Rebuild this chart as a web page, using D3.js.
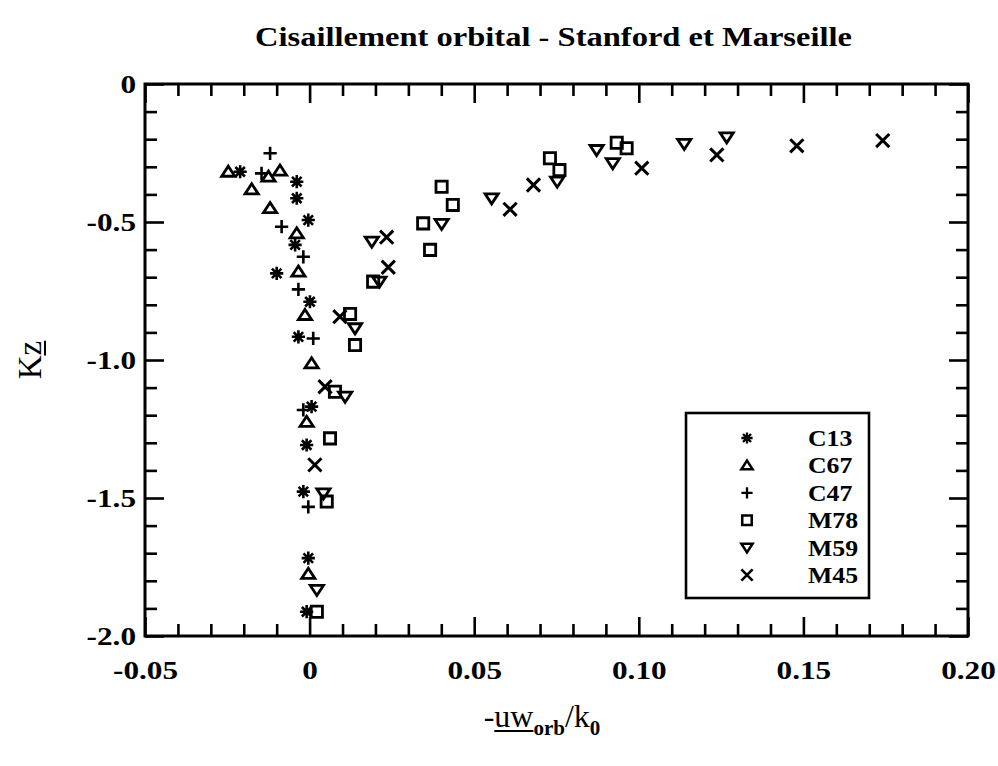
<!DOCTYPE html>
<html><head><meta charset="utf-8">
<script src="https://cdn.jsdelivr.net/npm/d3@7"></script>
<style>body{margin:0;background:#fff}svg{display:block}</style>
</head><body>
<script>
// ---- data ----
const seriesNames = ["C13","C67","C47","M78","M59","M45"];
const seriesSymbols = ["asterisk","triangleUp","plus","square","triangleDown","cross"];
const C13 = [[-0.0211,-0.318],[-0.0039,-0.354],[-0.0039,-0.414],[-0.0004,-0.493],[-0.0044,-0.583],[-0.0100,-0.686],[0.0001,-0.789],[-0.0034,-0.916],[0.0006,-1.169],[-0.0009,-1.308],[-0.0019,-1.477],[-0.0004,-1.718],[-0.0009,-1.912]];
const C67 = [[-0.0247,-0.318],[-0.0125,-0.336],[-0.0090,-0.314],[-0.0176,-0.382],[-0.0120,-0.450],[-0.0039,-0.541],[-0.0034,-0.680],[-0.0014,-0.837],[0.0006,-1.012],[-0.0009,-1.224],[-0.0004,-1.775]];
const C47 = [[-0.0120,-0.251],[-0.0146,-0.324],[-0.0085,-0.517],[-0.0019,-0.626],[-0.0034,-0.744],[0.0011,-0.922],[-0.0019,-1.181],[-0.0004,-1.532]];
const M78 = [[0.0022,-1.912],[0.0052,-1.513],[0.0062,-1.284],[0.0077,-1.115],[0.0138,-0.946],[0.0123,-0.833],[0.0193,-0.716],[0.0366,-0.601],[0.0345,-0.505],[0.0435,-0.438],[0.0401,-0.372],[0.0759,-0.312],[0.0730,-0.269],[0.0933,-0.213],[0.0963,-0.233]];
const M59 = [[0.0022,-1.833],[0.0042,-1.483],[0.0108,-1.133],[0.0138,-0.885],[0.0212,-0.716],[0.0189,-0.571],[0.0401,-0.507],[0.0553,-0.414],[0.0752,-0.354],[0.0872,-0.239],[0.0921,-0.287],[0.1138,-0.217],[0.1267,-0.193]];
const M45 = [[0.0016,-1.380],[0.0047,-1.097],[0.0092,-0.843],[0.0239,-0.664],[0.0234,-0.555],[0.0609,-0.454],[0.0680,-0.366],[0.1009,-0.305],[0.1237,-0.257],[0.1480,-0.224],[0.1741,-0.205]];
const seriesData = [C13,C67,C47,M78,M59,M45];
const xMajorTicks = [-0.05,0,0.05,0.10,0.15,0.20];
const xTickLabels = ["-0.05","0","0.05","0.10","0.15","0.20"];
const yMajorTicks = [0,-0.5,-1.0,-1.5,-2.0];
const yTickLabels = ["0","-0.5","-1.0","-1.5","-2.0"];
const titleText = "Cisaillement orbital - Stanford et Marseille";

// ---- layout ----
const W = 998, H = 766;
const L = 145, R = 968, T = 84, B = 636;
const x = d3.scaleLinear().domain([-0.05,0.20]).range([L,R]);
const y = d3.scaleLinear().domain([-2,0]).range([B,T]);
const xMinor = d3.range(-50,201,10).map(v=>v/1000).filter(v=>!xMajorTicks.some(m=>Math.abs(m-v)<1e-9));
const yMinor = d3.range(0,-21,-1).map(v=>v/10).filter(v=>!yMajorTicks.some(m=>Math.abs(m-v)<1e-9));

const svg = d3.select("body").append("svg").attr("width",W).attr("height",H);
const serif = "'Liberation Serif', 'Times New Roman', serif";

function widen(sel, k){
  sel.each(function(){
    const w = this.getComputedTextLength();
    d3.select(this).attr("textLength", w*k).attr("lengthAdjust","spacingAndGlyphs");
  });
}

svg.append("text").attr("x",(255+852)/2).attr("y",46).attr("text-anchor","middle")
  .attr("font-family",serif).attr("font-weight","bold").attr("font-size",27)
  .attr("textLength",597).attr("lengthAdjust","spacingAndGlyphs").text(titleText);

const MAJ = 19, MIN = 12;
function styleAxis(g){
  g.select(".domain").remove();
  g.selectAll(".tick line").attr("stroke","#000").attr("stroke-width",2.6);
}
// bottom
svg.append("g").attr("transform",`translate(0,${B})`)
  .call(d3.axisBottom(x).tickValues(xMajorTicks).tickSize(-MAJ).tickPadding(MAJ+6).tickFormat((d,i)=>xTickLabels[i]))
  .call(styleAxis)
  .selectAll("text").attr("font-family",serif).attr("font-weight","bold").attr("font-size",26).attr("fill","#000")
  .call(widen,1.2);
svg.append("g").attr("transform",`translate(0,${B})`)
  .call(d3.axisBottom(x).tickValues(xMinor).tickSize(-MIN).tickFormat(""))
  .call(styleAxis);
// top
svg.append("g").attr("transform",`translate(0,${T})`)
  .call(d3.axisTop(x).tickValues(xMajorTicks).tickSize(-MAJ).tickFormat(""))
  .call(styleAxis);
svg.append("g").attr("transform",`translate(0,${T})`)
  .call(d3.axisTop(x).tickValues(xMinor).tickSize(-MIN).tickFormat(""))
  .call(styleAxis);
// left
svg.append("g").attr("transform",`translate(${L},0)`)
  .call(d3.axisLeft(y).tickValues(yMajorTicks).tickSize(-MAJ).tickPadding(9).tickFormat((d,i)=>yTickLabels[i]))
  .call(styleAxis)
  .selectAll("text").attr("font-family",serif).attr("font-weight","bold").attr("font-size",26).attr("fill","#000")
  .call(widen,1.2);
svg.append("g").attr("transform",`translate(${L},0)`)
  .call(d3.axisLeft(y).tickValues(yMinor).tickSize(-MIN).tickFormat(""))
  .call(styleAxis);
// right
svg.append("g").attr("transform",`translate(${R},0)`)
  .call(d3.axisRight(y).tickValues(yMajorTicks).tickSize(-MAJ).tickFormat(""))
  .call(styleAxis);
svg.append("g").attr("transform",`translate(${R},0)`)
  .call(d3.axisRight(y).tickValues(yMinor).tickSize(-MIN).tickFormat(""))
  .call(styleAxis);
// frame
svg.append("rect").attr("x",L).attr("y",T).attr("width",R-L).attr("height",B-T)
  .attr("fill","none").attr("stroke","#000").attr("stroke-width",3);

// symbols
function sym(type, r){
  const h = r*0.85;
  switch(type){
    case "asterisk": { const d=r*0.72; return `M${-r},0H${r}M0,${-r}V${r}M${-d},${-d}L${d},${d}M${-d},${d}L${d},${-d}`; }
    case "plus": return `M${-r},0H${r}M0,${-r}V${r}`;
    case "cross": { const d=r*1.0; return `M${-d},${-d}L${d},${d}M${-d},${d}L${d},${-d}`; }
    case "square": { const s=r*0.85; return `M${-s},${-s}H${s}V${s}H${-s}Z`; }
    case "triangleUp": return `M0,${-h}L${r},${h*0.8}L${-r},${h*0.8}Z`;
    case "triangleDown": return `M0,${h}L${r},${-h*0.8}L${-r},${-h*0.8}Z`;
  }
}
const strokeW = {asterisk:2.6,plus:2.6,cross:3,square:2.8,triangleUp:2.8,triangleDown:2.8};

seriesData.forEach((data,i)=>{
  const t = seriesSymbols[i];
  svg.append("g").selectAll("path").data(data).join("path")
    .attr("transform",d=>`translate(${x(d[0])},${y(d[1])})`)
    .attr("d",sym(t,6.6)).attr("fill","none").attr("stroke","#000")
    .attr("stroke-width",strokeW[t]).attr("stroke-linejoin","miter");
});

// legend
const lg = svg.append("g");
lg.append("rect").attr("x",686).attr("y",413).attr("width",183).attr("height",185)
  .attr("fill","#fff").attr("stroke","#000").attr("stroke-width",2.6);
seriesNames.forEach((n,i)=>{
  const cy = 438 + i*27.4;
  lg.append("path").attr("transform",`translate(747,${cy})`).attr("d",sym(seriesSymbols[i],5.6))
    .attr("fill","none").attr("stroke","#000").attr("stroke-width",strokeW[seriesSymbols[i]]*0.9);
  lg.append("text").attr("x",808).attr("y",cy+8).attr("font-family",serif).attr("font-weight","bold")
    .attr("font-size",23).text(n).call(widen,1.12);
});

// y axis title: K z (z underlined)
const yl = svg.append("g").attr("transform","translate(41,360) rotate(-90)");
const ylt = yl.append("text").attr("text-anchor","middle").attr("font-family",serif).attr("font-size",33).text("Kz");
{
  const n = ylt.node();
  const s = n.getStartPositionOfChar(1), e = n.getEndPositionOfChar(1);
  yl.append("line").attr("x1",s.x).attr("x2",e.x).attr("y1",4).attr("y2",4).attr("stroke","#000").attr("stroke-width",2);
}
// x axis title: -uw_orb / k_0
const xl = svg.append("text").attr("x",542).attr("y",727).attr("text-anchor","middle")
  .attr("font-family",serif).attr("font-size",32);
xl.append("tspan").text("-uw");
xl.append("tspan").attr("font-size",21).attr("font-weight","bold").attr("dy",8).text("orb");
xl.append("tspan").attr("dy",-8).text("/k");
xl.append("tspan").attr("font-size",21).attr("font-weight","bold").attr("dy",8).text("0");
{
  const n = xl.node();
  const s = n.getStartPositionOfChar(1), e = n.getEndPositionOfChar(2);
  svg.append("line").attr("x1",s.x).attr("x2",e.x).attr("y1",731).attr("y2",731).attr("stroke","#000").attr("stroke-width",2);
}
</script>
</body></html>
